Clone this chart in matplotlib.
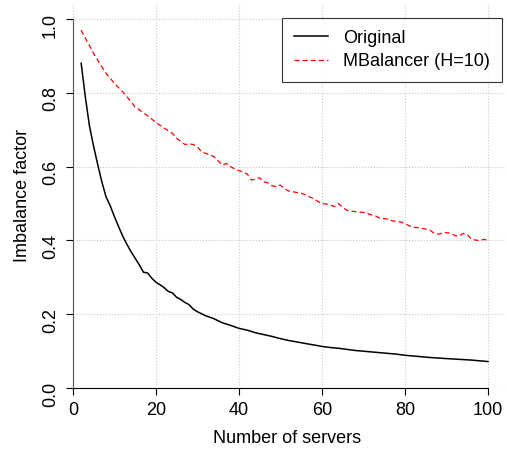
import matplotlib
matplotlib.use("Agg")
import matplotlib.pyplot as plt

# data
orig_x = [2, 3, 4, 5, 6, 7, 8, 9, 10, 11, 12, 13, 14, 15, 16, 17, 18, 19, 20,
          21, 22, 23, 24, 25, 26, 27, 28, 29, 30, 32, 34, 36, 38, 40, 42, 44,
          46, 48, 50, 52, 54, 56, 58, 60, 62, 64, 66, 68, 70, 72, 75, 78, 80,
          83, 86, 90, 93, 96, 98, 100]
orig_y = [0.880, 0.789, 0.710, 0.655, 0.605, 0.558, 0.518, 0.494, 0.465, 0.438,
          0.412, 0.390, 0.370, 0.352, 0.334, 0.314, 0.312, 0.298, 0.287, 0.280,
          0.272, 0.262, 0.258, 0.246, 0.240, 0.232, 0.226, 0.214, 0.207, 0.196,
          0.188, 0.177, 0.170, 0.162, 0.157, 0.150, 0.145, 0.140, 0.134, 0.129,
          0.125, 0.121, 0.117, 0.113, 0.110, 0.108, 0.105, 0.102, 0.100, 0.098,
          0.095, 0.092, 0.089, 0.086, 0.083, 0.080, 0.078, 0.076, 0.074, 0.072]

mb_x = [2, 3, 4, 5, 6, 7, 8, 10, 12, 13, 15, 17, 18, 20, 21, 23, 24, 25, 27,
        28, 29, 30, 31, 33, 34, 35, 36, 37, 38, 39, 40, 41, 42, 43, 44, 45, 46,
        47, 48, 49, 50, 51, 52, 53, 55, 56, 57, 58, 59, 60, 61, 62, 63, 64, 65,
        66, 67, 68, 70, 71, 72, 73, 74, 76, 77, 78, 79, 80, 81, 82, 83, 85, 86,
        87, 88, 89, 90, 91, 92, 93, 94, 95, 96, 97, 98, 99, 100]
mb_y = [0.970, 0.948, 0.928, 0.907, 0.888, 0.870, 0.853, 0.826, 0.803, 0.790,
        0.762, 0.746, 0.738, 0.720, 0.712, 0.697, 0.690, 0.677, 0.660, 0.662,
        0.660, 0.654, 0.640, 0.632, 0.627, 0.616, 0.604, 0.609, 0.600, 0.594,
        0.589, 0.586, 0.580, 0.564, 0.566, 0.570, 0.559, 0.556, 0.548, 0.546,
        0.550, 0.540, 0.534, 0.532, 0.528, 0.524, 0.518, 0.514, 0.506, 0.500,
        0.499, 0.496, 0.492, 0.500, 0.490, 0.482, 0.480, 0.478, 0.476, 0.473,
        0.469, 0.466, 0.460, 0.458, 0.453, 0.452, 0.450, 0.446, 0.440, 0.436,
        0.435, 0.431, 0.428, 0.420, 0.417, 0.420, 0.421, 0.420, 0.413, 0.412,
        0.419, 0.416, 0.404, 0.401, 0.400, 0.403, 0.401]

x_ticks = [0, 20, 40, 60, 80, 100]
y_ticks = [0.0, 0.2, 0.4, 0.6, 0.8, 1.0]

plt.rcParams["font.family"] = ["Liberation Sans", "DejaVu Sans"]
plt.rcParams["font.size"] = 13

fig = plt.figure(figsize=(5.07, 4.55), dpi=100)
ax = fig.add_axes([0.138, 0.147, 0.858, 0.846])

ax.plot(orig_x, orig_y, color="black", lw=1.1, label="Original")
ax.plot(mb_x, mb_y, color="red", lw=0.9, ls=(0, (4, 2.5)), label="MBalancer (H=10)")

ax.set_xlim(-0.7, 104.1)
ax.set_ylim(0, 1.043)

ax.set_xticks(x_ticks)
ax.set_yticks(y_ticks)
ax.set_xticklabels([str(v) for v in x_ticks])
ax.set_yticklabels([f"{v:.1f}" for v in y_ticks])
ax.tick_params(direction="out", length=5, width=0.8, pad=5, colors="black",
               labelsize=13)
ax.tick_params(axis="y", labelrotation=90)
for t in ax.get_yticklabels():
    t.set_verticalalignment("center")

ax.grid(True, color="#c8c8c8", ls=":", lw=0.8)
ax.set_axisbelow(True)

for s in ["top", "right"]:
    ax.spines[s].set_visible(False)
ax.spines["left"].set_position(("data", 0))
ax.spines["left"].set_bounds(0, 1)
ax.spines["bottom"].set_bounds(0, 100)
ax.spines["left"].set_color("#555555")

ax.set_xlabel("Number of servers", fontsize=13, labelpad=8)
ax.set_ylabel("Imbalance factor", fontsize=13, labelpad=8)

leg = ax.legend(loc="upper right", bbox_to_anchor=(0.993, 0.962), fontsize=13,
                frameon=True, fancybox=False, edgecolor="black",
                handlelength=1.9, borderpad=0.65, labelspacing=0.35,
                handletextpad=0.85, borderaxespad=0)
leg.get_frame().set_linewidth(0.8)

fig.savefig("out.png", dpi=100, facecolor="white")
